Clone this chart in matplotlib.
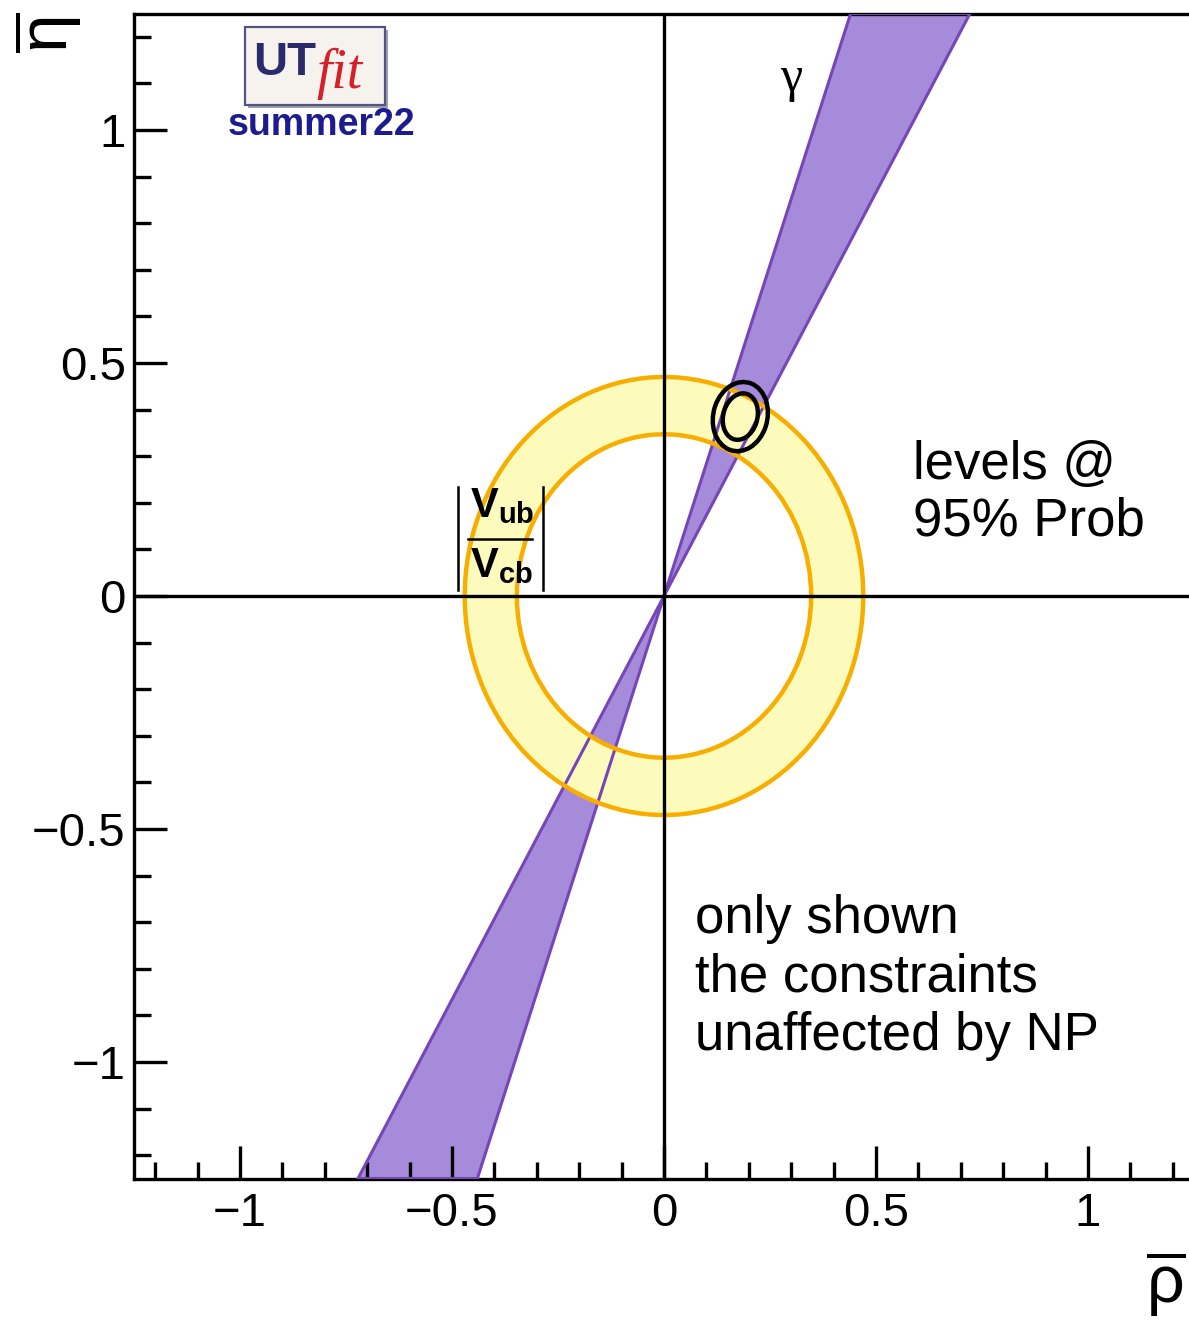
import numpy as np
import matplotlib
matplotlib.use('Agg')
import matplotlib.pyplot as plt
from matplotlib.patches import Annulus, Ellipse, Polygon, Rectangle
from matplotlib.lines import Line2D

plt.rcParams['font.family'] = ['Liberation Sans', 'DejaVu Sans']
plt.rcParams['mathtext.fontset'] = 'custom'
plt.rcParams['mathtext.rm'] = 'Liberation Sans'
plt.rcParams['mathtext.it'] = 'Liberation Sans:italic'
plt.rcParams['mathtext.bf'] = 'Liberation Sans:bold'

# constraints (rho-bar, eta-bar plane)
rho_lim = (-1.25, 1.25)
eta_lim = (-1.25, 1.25)
vub_center = (0.0, 0.0)
vub_r_in = 0.347
vub_r_out = 0.470
gamma_deg = [60.0, 70.6]          # band edges, degrees
fit_center = (0.180, 0.385)
fit_w = [0.127, 0.080]            # 95% contours (outer / inner)
fit_h = [0.151, 0.102]
fit_tilt = -20.0

major = [-1, -0.5, 0, 0.5, 1]
major_lbl = ['\u22121', '\u22120.5', '0', '0.5', '1']

fig = plt.figure(figsize=(11.89, 13.21), dpi=100)
W, H = 1189, 1321
ax = fig.add_axes([134 / W, (H - 1178.5) / H, 1060 / W, 1165 / H])
ax.set_xlim(*rho_lim)
ax.set_ylim(*eta_lim)

# gamma band: two wedges through the origin
t = np.radians(gamma_deg)
top = eta_lim[1]
pts_up = [(0, 0), (top / np.tan(t[1]), top), (top / np.tan(t[0]), top)]
pts_dn = [(0, 0), (-top / np.tan(t[1]), -top), (-top / np.tan(t[0]), -top)]
for p in (pts_up, pts_dn):
    ax.add_patch(Polygon(p, closed=True, fc='#a58bd9', ec='none', zorder=1))
    ax.add_patch(Polygon(p, closed=True, fc='none', ec='#7646b8', lw=2.2, zorder=3))

# |Vub/Vcb| ring
ax.add_patch(Annulus(vub_center, vub_r_out, vub_r_out - vub_r_in,
                     fc='#fdfbbb', ec='none', zorder=2))
for r in (vub_r_in, vub_r_out):
    ax.add_patch(Ellipse(vub_center, 2 * r, 2 * r, fc='none', ec='#f7ae00', lw=3.2, zorder=4))

# fit contours
for w, h in zip(fit_w, fit_h):
    ax.add_patch(Ellipse(fit_center, w, h, angle=fit_tilt, fc='none', ec='black',
                         lw=3.2, zorder=5))

ax.axhline(0, color='black', lw=2.4, zorder=6)
ax.axvline(0, color='black', lw=2.4, zorder=6)

ax.spines['right'].set_visible(False)
for s in ['left', 'bottom', 'top']:
    ax.spines[s].set_linewidth(2.4)
ax.set_xticks(major)
ax.set_xticklabels(major_lbl)
ax.set_yticks(major)
ax.set_yticklabels(major_lbl)
ax.set_xticks(np.arange(-1.2, 1.25, 0.1).round(2), minor=True)
ax.set_yticks(np.arange(-1.2, 1.25, 0.1).round(2), minor=True)
ax.tick_params(which='both', direction='in', width=2.4, labelsize=34, top=False, right=False)
ax.tick_params(which='major', length=24)
ax.tick_params(which='minor', length=12.5)
ax.tick_params(axis='x', pad=10)
ax.tick_params(axis='y', pad=6)

# gamma label
ax.text(0.30, 1.11, '\u03b3', fontsize=36, family='Liberation Serif', ha='center', va='center')

# |Vub/Vcb| label, built from pieces
fig.text(470 / W, 1 - 517 / H, r'$\mathbf{V}_{\mathbf{ub}}$', fontsize=30, ha='left', va='baseline', zorder=7)
fig.text(470 / W, 1 - 577 / H, r'$\mathbf{V}_{\mathbf{cb}}$', fontsize=30, ha='left', va='baseline', zorder=7)
for xs, ys in [([468, 532], [539, 539]), ([458, 458], [487, 590]), ([543, 543], [487, 590])]:
    fig.add_artist(Line2D([x / W for x in xs], [1 - y / H for y in ys], color='black', lw=1.8,
                          transform=fig.transFigure, zorder=7))

fig.text(913 / W, 1 - 535 / H, 'levels @\n95% Prob', fontsize=38, ha='left', va='baseline',
         linespacing=1.16)
fig.text(695 / W, 1 - 1050 / H, 'only shown\nthe constraints\nunaffected by NP', fontsize=38,
         ha='left', va='baseline', linespacing=1.22)

fig.text(48 / W, 1 - 33 / H, r'$\overline{\mathrm{\eta}}$', fontsize=50, rotation=90,
         ha='center', va='center')
fig.text(1166 / W, 1 - 1283 / H, r'$\overline{\mathrm{\rho}}$', fontsize=48,
         ha='center', va='center')

# UTfit logo
fig.patches.append(Rectangle((248 / W, 1 - 108 / H), 140 / W, 78 / H, transform=fig.transFigure,
                             fc='#a0a0a8', ec='none', zorder=1))
fig.patches.append(Rectangle((245 / W, 1 - 105 / H), 140 / W, 78 / H, transform=fig.transFigure,
                             fc='#f6f3ee', ec='#545483', lw=1.6, zorder=2))
fig.text(253 / W, 1 - 75 / H, 'UT', fontsize=34, fontweight='bold', color='#2b2b6b',
         ha='left', va='baseline', zorder=3)
fig.text(316 / W, 1 - 88 / H, 'fit', fontsize=40, style='italic', family='Liberation Serif',
         color='#d42026', ha='left', va='baseline', zorder=3)
fig.text(321 / W, 1 - 135 / H, 'summer22', fontsize=27, fontweight='bold', color='#1c1c8e',
         ha='center', va='baseline')

fig.savefig('out.png', dpi=100)
